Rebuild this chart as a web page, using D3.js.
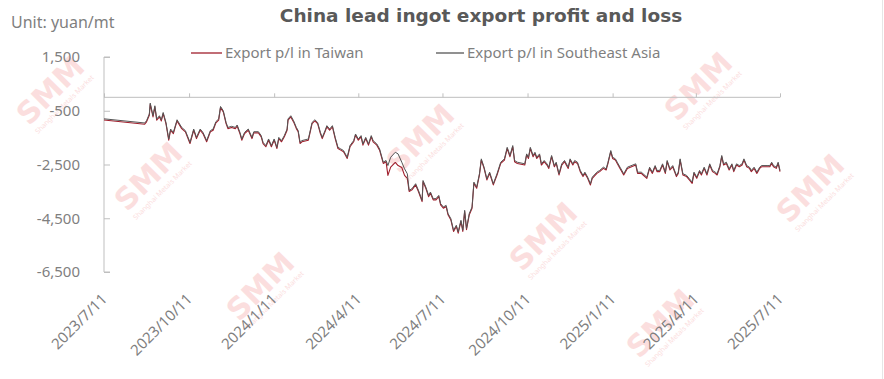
<!DOCTYPE html>
<html>
<head>
<meta charset="utf-8">
<script src="https://cdn.jsdelivr.net/npm/d3@7"></script>
<style>
  html, body { margin: 0; padding: 0; background: #ffffff; }
  svg { display: block; }
  text { font-family: "Noto Sans", "DejaVu Sans", sans-serif; }
</style>
</head>
<body>
<div id="chart"></div>
<script>
// ---------------- data ----------------
const chartTitle = "China lead ingot export profit and loss";
const unitLabel = "Unit: yuan/mt";
const seriesNames = ["Export p/l in Taiwan", "Export p/l in Southeast Asia"];

const dates = [
  "2023-07-11","2023-08-24","2023-08-26","2023-08-29","2023-08-30","2023-09-02","2023-09-04","2023-09-06","2023-09-09","2023-09-11",
  "2023-09-13","2023-09-16","2023-09-19","2023-09-21","2023-09-24","2023-09-28","2023-10-03","2023-10-07","2023-10-12","2023-10-16",
  "2023-10-19","2023-10-23","2023-10-26","2023-10-30","2023-11-03","2023-11-06","2023-11-09","2023-11-12","2023-11-14","2023-11-17",
  "2023-11-20","2023-11-22","2023-11-26","2023-11-30","2023-12-02","2023-12-05","2023-12-07","2023-12-10","2023-12-14","2023-12-18",
  "2023-12-20","2023-12-25","2023-12-28","2023-12-30","2024-01-02","2024-01-05","2024-01-08","2024-01-11","2024-01-14","2024-01-16",
  "2024-01-19","2024-01-22","2024-01-25","2024-01-26","2024-01-29","2024-02-01","2024-02-04","2024-02-06","2024-02-08","2024-02-10",
  "2024-02-17","2024-02-21","2024-02-24","2024-02-27","2024-03-01","2024-03-03","2024-03-06","2024-03-08","2024-03-11","2024-03-14",
  "2024-03-17","2024-03-20","2024-03-23","2024-03-26","2024-03-28","2024-03-30","2024-04-02","2024-04-06","2024-04-08","2024-04-11",
  "2024-04-14","2024-04-16","2024-04-19","2024-04-22","2024-04-25","2024-04-27","2024-05-01","2024-05-04","2024-05-08","2024-05-11",
  "2024-05-13","2024-05-16","2024-05-21","2024-05-24","2024-05-28","2024-05-31","2024-06-03","2024-06-05","2024-06-08","2024-06-12",
  "2024-06-15","2024-06-19","2024-06-20","2024-06-23","2024-06-26","2024-06-28","2024-07-01","2024-07-04","2024-07-07","2024-07-09",
  "2024-07-12","2024-07-15","2024-07-17","2024-07-20","2024-07-23","2024-07-26","2024-07-28","2024-07-31","2024-08-02","2024-08-04",
  "2024-08-06","2024-08-09","2024-08-12","2024-08-14","2024-08-17","2024-08-20","2024-08-22","2024-08-25","2024-08-28","2024-08-31",
  "2024-09-04","2024-09-08","2024-09-12","2024-09-16","2024-09-19","2024-09-22","2024-09-25","2024-09-27","2024-09-30","2024-10-08",
  "2024-10-10","2024-10-12","2024-10-14","2024-10-17","2024-10-19","2024-10-21","2024-10-24","2024-10-26","2024-10-29","2024-11-01",
  "2024-11-03","2024-11-06","2024-11-09","2024-11-11","2024-11-14","2024-11-17","2024-11-20","2024-11-24","2024-11-26","2024-11-29",
  "2024-12-01","2024-12-04","2024-12-07","2024-12-10","2024-12-12","2024-12-15","2024-12-18","2024-12-20","2024-12-25","2024-12-28",
  "2025-01-01","2025-01-04","2025-01-06","2025-01-09","2025-01-11","2025-01-14","2025-01-16","2025-01-19","2025-01-23","2025-01-27",
  "2025-02-05","2025-02-07","2025-02-11","2025-02-13","2025-02-17","2025-02-20","2025-02-23","2025-02-26","2025-02-28","2025-03-03",
  "2025-03-06","2025-03-09","2025-03-11","2025-03-14","2025-03-17","2025-03-21","2025-03-23","2025-03-25","2025-03-28","2025-04-01",
  "2025-04-04","2025-04-07","2025-04-09","2025-04-12","2025-04-15","2025-04-17","2025-04-20","2025-04-23","2025-04-26","2025-04-29",
  "2025-05-02","2025-05-04","2025-05-07","2025-05-09","2025-05-11","2025-05-14","2025-05-17","2025-05-20","2025-05-22","2025-05-25",
  "2025-05-28","2025-05-31","2025-06-02","2025-06-05","2025-06-08","2025-06-10","2025-06-13","2025-06-16","2025-06-19","2025-06-21",
  "2025-06-27","2025-06-30","2025-07-02","2025-07-04","2025-07-07","2025-07-09","2025-07-11"
];

const taiwan = [
  -845,-1000,-915,-665,-260,-730,-360,-850,-730,-880,
  -610,-980,-1595,-1225,-1350,-880,-1165,-1285,-1720,-1225,
  -1535,-1225,-1350,-1655,-1285,-1225,-950,-850,-385,-545,
  -980,-1165,-1125,-1165,-1075,-1350,-1595,-1350,-1225,-1535,
  -1325,-1325,-1470,-1720,-1840,-1595,-1840,-1595,-1905,-1535,
  -1655,-1470,-1225,-850,-730,-915,-1165,-1285,-1720,-1655,
  -1595,-980,-880,-980,-1350,-1535,-1285,-1100,-1225,-1100,
  -1535,-1905,-1965,-2025,-2150,-2275,-1840,-1655,-1410,-1595,
  -1470,-1780,-1535,-1780,-1470,-1655,-1780,-1965,-2460,-2395,
  -2905,-2600,-2425,-2540,-2610,-2905,-3020,-3505,-3445,-3260,
  -3505,-3880,-3140,-3385,-3695,-3570,-3815,-3815,-3695,-4000,
  -4125,-4065,-4370,-4555,-4990,-4805,-5055,-4620,-4990,-4250,
  -4925,-4370,-4125,-3200,-3385,-2890,-2335,-2645,-3075,-2830,
  -3260,-2890,-2460,-2335,-1905,-2210,-1840,-2395,-2460,-2520,
  -2150,-2275,-1905,-2210,-2090,-2275,-2150,-2520,-2395,-2520,
  -2645,-2210,-2585,-2460,-2890,-2520,-2395,-2645,-2335,-2520,
  -2395,-2460,-2765,-2950,-2830,-3015,-3260,-3015,-2830,-2765,
  -2645,-2705,-2460,-2025,-2275,-2335,-2460,-2645,-2890,-2645,
  -2520,-2830,-2830,-2890,-3015,-2645,-2830,-2585,-2765,-2765,
  -2520,-2830,-2395,-2705,-2585,-2950,-2830,-2335,-2890,-2950,
  -3075,-3200,-2830,-3015,-2765,-2890,-2645,-2890,-2520,-2765,
  -2830,-2890,-2585,-2210,-2520,-2460,-2705,-2520,-2765,-2520,
  -2585,-2520,-2335,-2585,-2645,-2765,-2645,-2830,-2645,-2585,
  -2585,-2585,-2460,-2585,-2645,-2460,-2765
];

const seAsia = [
  -800,-955,-870,-620,-215,-685,-315,-805,-685,-835,
  -565,-935,-1550,-1180,-1305,-835,-1120,-1240,-1675,-1180,
  -1490,-1180,-1305,-1610,-1240,-1180,-905,-805,-340,-500,
  -935,-1120,-1080,-1120,-1030,-1305,-1550,-1305,-1180,-1490,
  -1280,-1280,-1425,-1675,-1795,-1550,-1795,-1550,-1860,-1490,
  -1610,-1425,-1180,-805,-685,-870,-1120,-1240,-1675,-1610,
  -1550,-935,-835,-935,-1305,-1490,-1240,-1055,-1180,-1055,
  -1490,-1860,-1920,-1980,-2105,-2230,-1795,-1610,-1365,-1550,
  -1425,-1735,-1490,-1735,-1425,-1610,-1735,-1920,-2415,-2350,
  -2540,-2230,-2045,-2105,-2415,-2660,-2845,-3460,-3400,-3215,
  -3460,-3835,-3095,-3340,-3650,-3525,-3770,-3770,-3650,-3955,
  -4080,-4020,-4325,-4510,-4945,-4760,-5010,-4575,-4945,-4205,
  -4880,-4325,-4080,-3155,-3340,-2845,-2290,-2600,-3030,-2785,
  -3215,-2845,-2415,-2290,-1860,-2165,-1795,-2350,-2415,-2475,
  -2105,-2230,-1860,-2165,-2045,-2230,-2105,-2475,-2350,-2475,
  -2600,-2165,-2540,-2415,-2845,-2475,-2350,-2600,-2290,-2475,
  -2350,-2415,-2720,-2905,-2785,-2970,-3215,-2970,-2785,-2720,
  -2600,-2660,-2415,-1980,-2230,-2290,-2415,-2600,-2845,-2600,
  -2475,-2785,-2785,-2845,-2970,-2600,-2785,-2540,-2720,-2720,
  -2475,-2785,-2350,-2660,-2540,-2905,-2785,-2290,-2845,-2905,
  -3030,-3155,-2785,-2970,-2720,-2845,-2600,-2845,-2475,-2720,
  -2785,-2845,-2540,-2165,-2475,-2415,-2660,-2475,-2720,-2475,
  -2540,-2475,-2290,-2540,-2600,-2720,-2600,-2785,-2600,-2540,
  -2540,-2540,-2415,-2540,-2600,-2415,-2720
];

const xTickDates = ["2023-07-11","2023-10-11","2024-01-11","2024-04-11","2024-07-11",
                    "2024-10-11","2025-01-11","2025-04-11","2025-07-11"];
const yTicks = [1500, -500, -2500, -4500, -6500];
const yDomain = [-6500, 1500];

// ---------------- layout ----------------
const W = 884, H = 379;
const margin = { left: 104, right: 104, top: 57, bottom: 107 };
const colors = { taiwan: "#a01e2c", seAsia: "#555555", axis: "#bfbfbf", text: "#7f7f7f", title: "#595959" };

const parse = d3.timeParse("%Y-%m-%d");
const fmtDate = d3.timeFormat("%Y/%-m/%-d");

const svg = d3.select("#chart").append("svg")
  .attr("width", W).attr("height", H);

// watermarks
const wmPos = [[52,92],[150,178],[262,288],[422,140],[545,238],[700,88],[662,325],[812,190]];
const wm = svg.append("g").attr("class", "watermark");
wmPos.forEach(p => {
  const g = wm.append("g").attr("transform", `translate(${p[0]},${p[1]}) rotate(-45)`);
  g.append("text").attr("text-anchor", "middle").attr("y", 8)
    .style("font-family", "'DejaVu Sans', sans-serif").style("font-weight", 900)
    .style("font-size", "30px").attr("fill", "#fbdede").text("SMM");
  g.append("text").attr("text-anchor", "middle").attr("y", 20)
    .style("font-size", "7px").attr("fill", "#fbdede").text("Shanghai Metals Market");
});

const x = d3.scaleTime()
  .domain([parse(xTickDates[0]), parse(xTickDates[xTickDates.length - 1])])
  .range([margin.left, W - margin.right]);
const y = d3.scaleLinear().domain(yDomain).range([H - margin.bottom, margin.top]);

// title & unit
svg.append("text").attr("x", 481).attr("y", 22).attr("text-anchor", "middle")
  .style("font-family", "'DejaVu Sans', sans-serif")
  .style("font-size", "18.5px").style("font-weight", "bold").attr("fill", colors.title)
  .text(chartTitle);
svg.append("text").attr("x", 11).attr("y", 28)
  .style("font-size", "16px").attr("fill", colors.text).text(unitLabel);

// y axis
const yAxis = d3.axisRight(y).tickValues(yTicks).tickSize(6).tickFormat(() => "");
const gy = svg.append("g").attr("transform", `translate(${margin.left},0)`).call(yAxis);
gy.select(".domain").attr("stroke", colors.axis).attr("d", `M6,${y(yDomain[1])}H0V${y(yDomain[0])}H6`);
gy.selectAll(".tick line").attr("stroke", colors.axis);
svg.append("g").selectAll("text").data(yTicks).join("text")
  .attr("x", 80).attr("y", d => y(d)).attr("dy", "0.35em").attr("text-anchor", "end")
  .style("font-size", "15px").attr("fill", colors.text)
  .text(d => d3.format(",")(d).replace("\u2212", "-"));

// x axis at zero
const xAxis = d3.axisTop(x).tickValues(xTickDates.map(parse)).tickSize(4).tickFormat(() => "");
const gx = svg.append("g").attr("transform", `translate(0,${y(0)})`).call(xAxis);
gx.select(".domain").attr("stroke", colors.axis).attr("d", `M${x.range()[0]},0H${x.range()[1]}`);
gx.selectAll(".tick line").attr("stroke", colors.axis);

// x labels at bottom, rotated
svg.append("g").selectAll("text").data(xTickDates).join("text")
  .attr("transform", d => `translate(${x(parse(d)) + 4},300) rotate(-45)`)
  .attr("text-anchor", "end")
  .style("font-size", "15px").attr("fill", colors.text)
  .text(d => fmtDate(parse(d)));

// lines
const line = d3.line().x(d => x(d[0])).y(d => y(d[1]));
const twData = dates.map((d, i) => [parse(d), taiwan[i]]);
const seData = dates.map((d, i) => [parse(d), seAsia[i]]);
svg.append("path").datum(twData).attr("d", line).attr("fill", "none")
  .attr("stroke", colors.taiwan).attr("stroke-width", 1.1).attr("stroke-linejoin", "round");
svg.append("path").datum(seData).attr("d", line).attr("fill", "none")
  .attr("stroke", colors.seAsia).attr("stroke-width", 1.0).attr("stroke-linejoin", "round");

// legend
const legend = [
  { name: seriesNames[0], color: colors.taiwan, x1: 191, x2: 222 },
  { name: seriesNames[1], color: colors.seAsia, x1: 436, x2: 464 }
];
const lg = svg.append("g");
legend.forEach(l => {
  lg.append("line").attr("x1", l.x1).attr("x2", l.x2).attr("y1", 53).attr("y2", 53)
    .attr("stroke", l.color).attr("stroke-width", 1.3);
  lg.append("text").attr("x", l.x2 + 3).attr("y", 58)
    .style("font-size", "15px").attr("fill", colors.text).text(l.name);
});

// right frame edge
svg.append("line").attr("x1", 882.5).attr("x2", 882.5).attr("y1", 0).attr("y2", H)
  .attr("stroke", "#e6e6e6");
</script>
</body>
</html>
